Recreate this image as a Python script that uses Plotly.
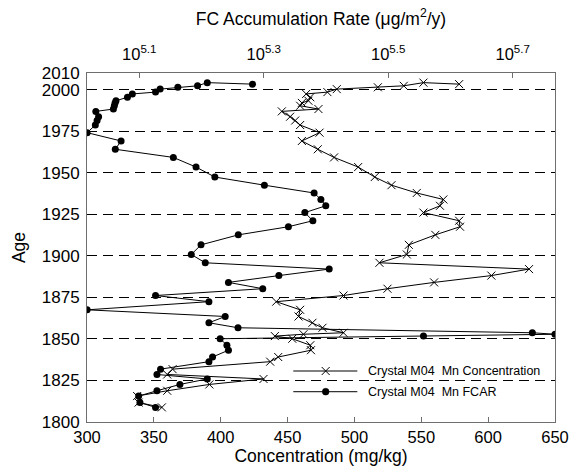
import plotly.graph_objects as go

# Sample ages (years AD) shared by both records of crystal M04
age = [2003.3, 2004.2, 2002.3, 2001.4, 2000.3, 1998.5, 1997.4, 1995.4, 1993.3, 1992.0,
       1990.3, 1988.3, 1986.9, 1983.7, 1981.4, 1978.7, 1974.1, 1969.1, 1964.1, 1959.2,
       1953.4, 1947.4, 1942.5, 1937.8, 1933.9, 1930.1, 1926.0, 1921.1, 1917.5, 1912.6,
       1906.6, 1900.8, 1895.8, 1892.0, 1888.1, 1884.0, 1880.2, 1876.1, 1872.4, 1867.5,
       1863.5, 1859.7, 1856.7, 1853.7, 1852.8, 1851.7, 1850.1, 1846.2, 1843.2, 1839.1,
       1836.3, 1831.8, 1828.6, 1825.9, 1822.6, 1818.8, 1815.6, 1811.7, 1808.8]

# Mn concentration (mg/kg)
mn_conc = [578.3, 551.6, 536.9, 517.5, 486.8, 479.8, 463.9, 467.0, 465.6, 460.7,
           459.4, 473.1, 445.7, 451.9, 455.7, 459.4, 473.9, 460.7, 472.6, 484.8,
           502.8, 515.2, 527.7, 546.6, 566.5, 564.0, 551.6, 578.3, 579.0, 560.5,
           540.7, 539.2, 518.7, 630.6, 602.4, 559.6, 524.7, 491.8, 441.5, 459.4,
           458.2, 468.6, 476.1, 491.8, 461.9, 440.5, 453.5, 467.0, 467.5, 443.0,
           437.0, 364.0, 360.0, 432.0, 391.5, 360.0, 337.5, 338.6, 356.0]

# Mn flux-corrected accumulation rate (ug/m^2/y)
mn_fcar = [191400, 161900, 156200, 145200, 136000, 133700, 122700, 120500, 115500, 115100,
           114800, 114400, 107200, 108300, 107700, 107000, 103800, 117700, 115200, 142800,
           155300, 166500, 200000, 240400, 246500, 251000, 232300, 239300, 218600, 181600,
           158200, 152600, 160700, 254200, 211000, 175100, 198800, 133700, 162900, 103800,
           173000, 162900, 181400, 539000, 586100, 360300, 169800, 174100, 175100, 165100,
           162900, 136200, 134400, 161900, 146300, 134400, 125600, 126200, 133700]

age_ticks = [1800, 1825, 1850, 1875, 1900, 1925, 1950, 1975, 2000, 2010]
conc_ticks = [300, 350, 400, 450, 500, 550, 600, 650]
fcar_exps = [5.1, 5.3, 5.5, 5.7]

label_conc = "Crystal M04  Mn Concentration"
label_fcar = "Crystal M04  Mn FCAR"

FONT = "Liberation Sans, Arial, sans-serif"
FRAME = "#6e6e6e"

fig = go.Figure()

fig.add_trace(go.Scatter(
    x=mn_conc, y=age, xaxis="x", yaxis="y", mode="lines+markers",
    name=label_conc, showlegend=False,
    line=dict(color="black", width=1),
    marker=dict(symbol="x-thin", size=8, line=dict(color="black", width=1)),
))

fig.add_trace(go.Scatter(
    x=mn_fcar, y=age, xaxis="x2", yaxis="y", mode="lines+markers",
    name=label_fcar, showlegend=False,
    line=dict(color="black", width=1),
    marker=dict(symbol="circle", size=7, color="black"),
))

fig.update_layout(
    width=570, height=472,
    margin=dict(l=87, r=15, t=73, b=50),
    paper_bgcolor="white", plot_bgcolor="white",
    font=dict(family=FONT, size=16, color="black"),
    xaxis=dict(
        range=[300, 650], tickvals=conc_ticks, ticks="inside", ticklen=5,
        tickcolor=FRAME, showgrid=False, zeroline=False, automargin=False,
        showline=True, linecolor=FRAME, linewidth=1, mirror=False,
        title=dict(text="Concentration (mg/kg)", font=dict(size=17.5), standoff=4),
        tickfont=dict(size=16.5),
    ),
    xaxis2=dict(
        type="log", range=[5.016, 5.768], overlaying="x", side="top", anchor="y",
        tickvals=[10 ** e for e in fcar_exps],
        ticktext=[f"10<sup>{e}</sup>" for e in fcar_exps],
        ticks="inside", ticklen=5, tickcolor=FRAME, showgrid=False, zeroline=False,
        showline=True, linecolor=FRAME, linewidth=1, automargin=False,
        ticklabelstandoff=5,
        title=dict(text="FC Accumulation Rate (\u03bcg/m<sup>2</sup>/y)", font=dict(size=17.5), standoff=13),
        tickfont=dict(size=16.5),
    ),
    yaxis=dict(
        range=[1800, 2010], tickvals=age_ticks, ticks="", showgrid=True,
        gridcolor="black", gridwidth=1, griddash="10px,6px", zeroline=False,
        showline=True, linecolor=FRAME, linewidth=1, mirror=True, automargin=False,
        ticklabelstandoff=3,
        title=dict(text="Age", font=dict(size=17.5), standoff=11),
        tickfont=dict(size=17),
    ),
)

# Legend drawn in the lower-right corner of the plot (paper coordinates)
px_w, px_h = 468.0, 349.0
lx0, lx1, lmx, ltx = 0.4408, 0.5776, 0.510, 0.596
rows = [(0.1461, "x", label_conc), (0.0868, "dot", label_fcar)]
for ly, kind, text in rows:
    fig.add_shape(type="line", xref="paper", yref="paper", x0=lx0, x1=lx1, y0=ly, y1=ly,
                  line=dict(color="black", width=1))
    if kind == "x":
        dx, dy = 4 / px_w, 4 / px_h
        fig.add_shape(type="line", xref="paper", yref="paper",
                      x0=lmx - dx, x1=lmx + dx, y0=ly - dy, y1=ly + dy,
                      line=dict(color="black", width=1))
        fig.add_shape(type="line", xref="paper", yref="paper",
                      x0=lmx - dx, x1=lmx + dx, y0=ly + dy, y1=ly - dy,
                      line=dict(color="black", width=1))
    else:
        rx, ry = 3.4 / px_w, 3.4 / px_h
        fig.add_shape(type="circle", xref="paper", yref="paper",
                      x0=lmx - rx, x1=lmx + rx, y0=ly - ry, y1=ly + ry,
                      line=dict(color="black", width=0.5), fillcolor="black")
    fig.add_annotation(x=ltx, y=ly, xref="paper", yref="paper", text=text,
                       showarrow=False, xanchor="left", yanchor="middle",
                       font=dict(size=12.5, color="black"))

fig.write_html("out.html")
